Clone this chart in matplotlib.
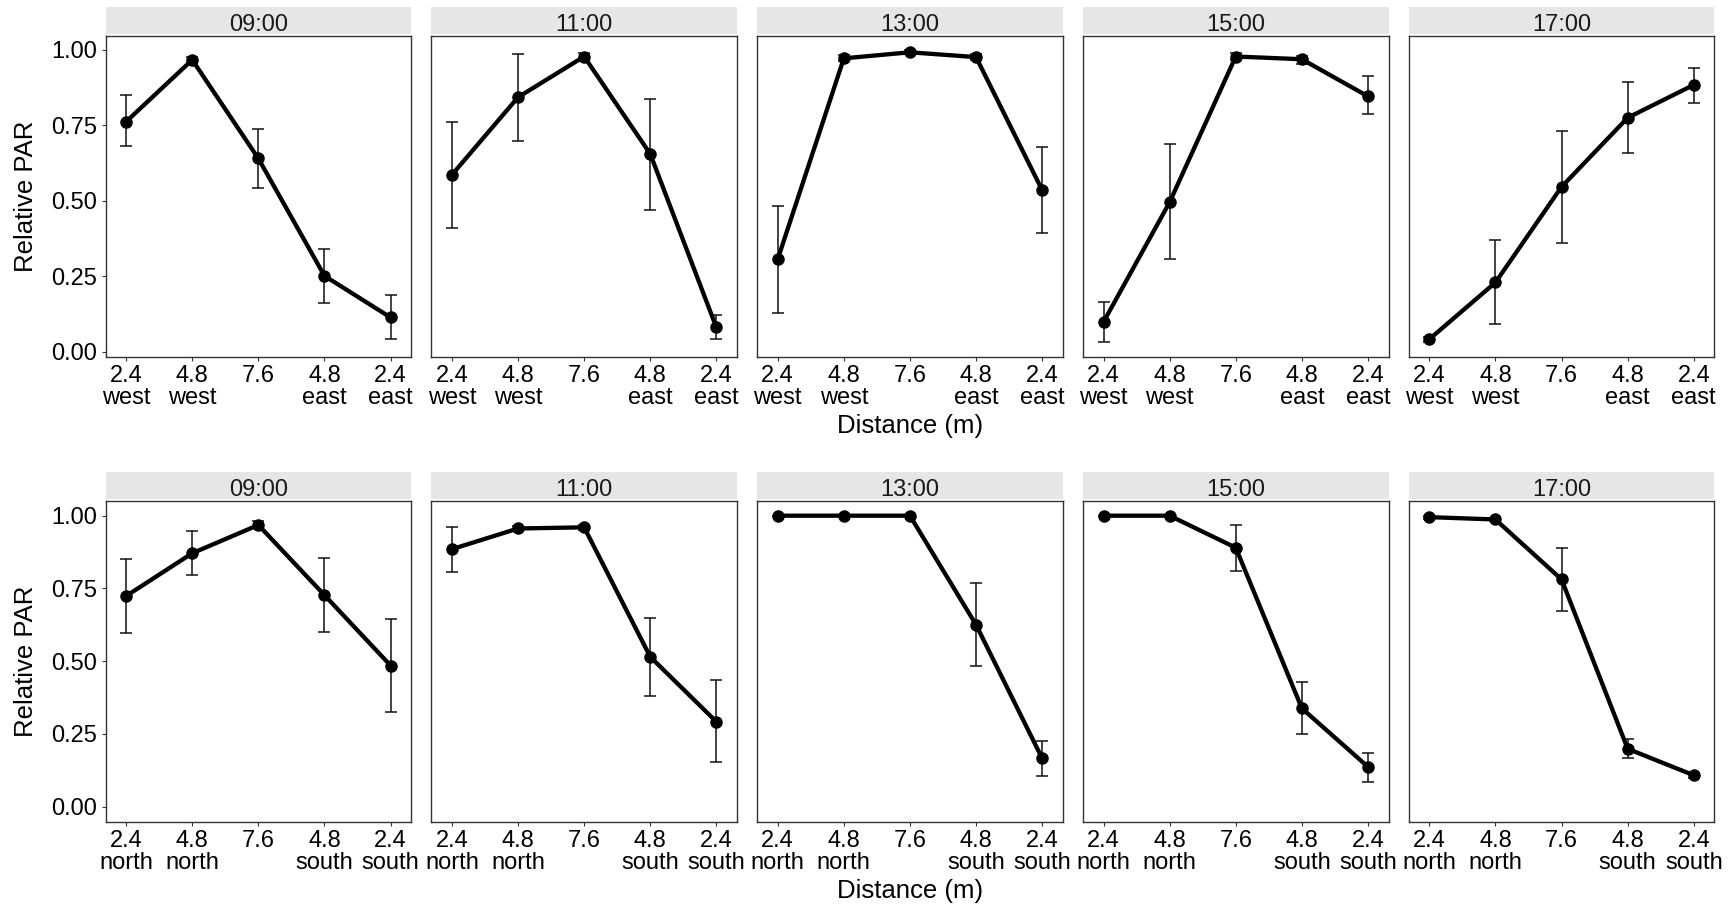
import matplotlib
matplotlib.use("Agg")
import matplotlib.pyplot as plt
from matplotlib.patches import Rectangle

plt.rcParams['font.family'] = ['Liberation Sans', 'DejaVu Sans']

# ---- data -------------------------------------------------------------
times = ["09:00", "11:00", "13:00", "15:00", "17:00"]
positions = [1, 2, 3, 4, 5]
ew_labels = ["2.4\nwest", "4.8\nwest", "7.6", "4.8\neast", "2.4\neast"]
ns_labels = ["2.4\nnorth", "4.8\nnorth", "7.6", "4.8\nsouth", "2.4\nsouth"]
y_ticks = [0.00, 0.25, 0.50, 0.75, 1.00]

# east-west transect: mean relative PAR and error-bar limits, one list per time
ew_mean = [
    [0.762, 0.967, 0.640, 0.251, 0.113],
    [0.586, 0.843, 0.978, 0.655, 0.080],
    [0.306, 0.972, 0.992, 0.976, 0.535],
    [0.098, 0.495, 0.978, 0.969, 0.846],
    [0.041, 0.229, 0.546, 0.775, 0.884],
]
ew_low = [
    [0.682, 0.957, 0.543, 0.161, 0.041],
    [0.411, 0.698, 0.968, 0.470, 0.041],
    [0.128, 0.962, 0.985, 0.966, 0.393],
    [0.033, 0.306, 0.968, 0.954, 0.786],
    [0.033, 0.092, 0.360, 0.659, 0.825],
]
ew_high = [
    [0.851, 0.977, 0.739, 0.339, 0.187],
    [0.760, 0.987, 0.988, 0.836, 0.122],
    [0.484, 0.982, 0.999, 0.986, 0.677],
    [0.164, 0.687, 0.988, 0.981, 0.912],
    [0.049, 0.369, 0.730, 0.892, 0.939],
]

# north-south transect
ns_mean = [
    [0.724, 0.871, 0.968, 0.727, 0.485],
    [0.885, 0.956, 0.960, 0.515, 0.292],
    [1.000, 1.000, 1.000, 0.625, 0.166],
    [1.000, 1.000, 0.890, 0.338, 0.137],
    [0.995, 0.987, 0.781, 0.199, 0.108],
]
ns_low = [
    [0.596, 0.795, 0.956, 0.599, 0.324],
    [0.806, 0.948, 0.952, 0.380, 0.155],
    [0.998, 0.998, 0.998, 0.482, 0.107],
    [0.998, 0.998, 0.810, 0.249, 0.084],
    [0.990, 0.982, 0.671, 0.166, 0.100],
]
ns_high = [
    [0.851, 0.946, 0.982, 0.856, 0.644],
    [0.961, 0.965, 0.968, 0.648, 0.436],
    [1.000, 1.000, 1.000, 0.769, 0.226],
    [1.000, 1.000, 0.968, 0.430, 0.184],
    [1.000, 0.992, 0.889, 0.234, 0.115],
]

# ---- layout (pixel geometry) -------------------------------------------
W, H = 1732, 906
fig = plt.figure(figsize=(W / 100, H / 100), dpi=100)

panel_left0 = 105.5
panel_w = 305.7
panel_gap = 20.1

rows = [
    dict(top=35.7, bottom=356.7, strip_top=6.7, ylim=(-0.017, 1.047),
         mean=ew_mean, low=ew_low, high=ew_high, labels=ew_labels),
    dict(top=500.7, bottom=821.7, strip_top=471.7, ylim=(-0.0515, 1.0515),
         mean=ns_mean, low=ns_low, high=ns_high, labels=ns_labels),
]

tick_fs = 17
border_col = "#333333"

for row in rows:
    for i, t in enumerate(times):
        x0 = panel_left0 + i * (panel_w + panel_gap)
        ax = fig.add_axes([x0 / W, 1 - row["bottom"] / H,
                           panel_w / W, (row["bottom"] - row["top"]) / H])
        m = row["mean"][i]
        lo = [a - b for a, b in zip(m, row["low"][i])]
        hi = [b - a for a, b in zip(m, row["high"][i])]
        ax.errorbar(positions, m, yerr=[lo, hi], fmt="none",
                    ecolor="#111111", elinewidth=1.1, capsize=4.5,
                    capthick=1.1, zorder=2)
        ax.plot(positions, m, color="black", lw=3.1, zorder=3,
                solid_capstyle="round", solid_joinstyle="round")
        ax.plot(positions, m, "o", color="black", ms=8, zorder=4)

        ax.set_xlim(0.688, 5.312)
        ax.set_ylim(*row["ylim"])
        ax.set_xticks(positions)
        ax.set_xticklabels(row["labels"], fontsize=tick_fs, linespacing=1.02)
        ax.tick_params(axis="x", length=2.9, width=0.8, color=border_col,
                       pad=2.8, labelcolor="black")
        if i == 0:
            ax.set_yticks(y_ticks)
            ax.set_yticklabels([f"{v:.2f}" for v in y_ticks], fontsize=tick_fs)
            ax.tick_params(axis="y", length=2.9, width=0.8, color=border_col,
                           pad=3.0, labelcolor="black")
        else:
            ax.set_yticks([])
        for s in ax.spines.values():
            s.set_color(border_col)
            s.set_linewidth(1.0)

        # facet strip
        st, sb = row["strip_top"], row["top"] - 1.3
        fig.patches.append(Rectangle((x0 / W, 1 - sb / H), panel_w / W,
                                     (sb - st) / H, transform=fig.transFigure,
                                     facecolor="#e6e6e6", edgecolor="none"))
        fig.text((x0 + panel_w / 2) / W, 1 - (row["top"] - 5.0) / H, t,
                 ha="center", va="baseline", fontsize=17, color="#1a1a1a")

    # axis titles for this row
    cx = (panel_left0 + (5 * panel_w + 4 * panel_gap) / 2) / W
    fig.text(cx, 1 - (row["bottom"] + 76.3) / H, "Distance (m)",
             ha="center", va="baseline", fontsize=18.5, color="black")
    fig.text(33 / W, 1 - ((row["top"] + row["bottom"]) / 2) / H, "Relative PAR",
             ha="center", va="baseline", rotation=90, fontsize=18.5,
             rotation_mode="anchor", color="black")

fig.savefig("out.png", dpi=100)
